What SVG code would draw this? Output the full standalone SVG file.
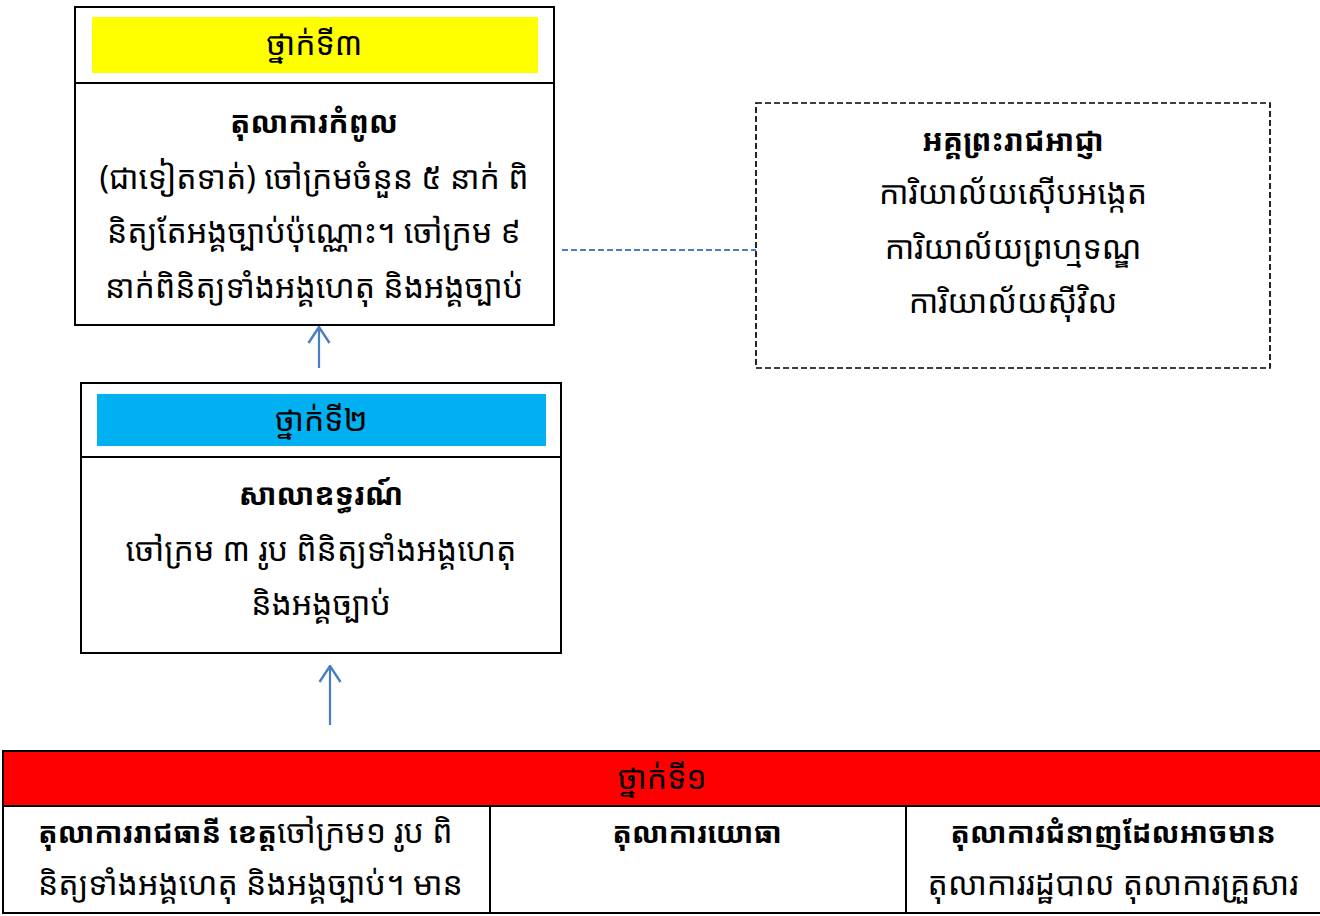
<svg xmlns="http://www.w3.org/2000/svg" width="1320" height="916" viewBox="0 0 1320 916">
<style>
text{font-family:"Khmer OS Battambang","Khmer OS System","Noto Sans Khmer","Noto Serif Khmer","Khmer OS","DejaVu Sans",sans-serif;font-size:32px;fill:#000}
.c{text-anchor:middle}
.b{font-weight:bold;font-size:30px}
.b2{font-weight:bold;font-size:29px}
.box{fill:#fff;stroke:#000;stroke-width:2}
.ln{stroke:#000;stroke-width:2;fill:none}
.conn{stroke:#4A7EC2;stroke-width:2.2;fill:none}
</style>
<defs>
<marker id="ah" viewBox="0 0 18 24" refX="17" refY="12" markerWidth="18" markerHeight="24" markerUnits="userSpaceOnUse" orient="auto">
<path d="M1,1.5 L17,12 L1,22.5" fill="none" stroke="#4A7EC2" stroke-width="2.4"/>
</marker>
</defs>
<rect width="1320" height="916" fill="#fff"/>
<g id="connectors">
<line class="conn" x1="319" y1="368" x2="319" y2="327" marker-end="url(#ah)"/>
<line class="conn" x1="330" y1="725" x2="330" y2="666" marker-end="url(#ah)"/>
<line class="conn" x1="562" y1="250" x2="756" y2="250" stroke-dasharray="6,3" stroke-width="1.6"/>
</g>
<g id="tier3">
<rect class="box" x="75" y="7" width="479" height="318"/>
<line class="ln" x1="75" y1="83" x2="554" y2="83" stroke-width="3"/>
<rect x="92" y="17" width="446" height="56" fill="#FFFF00"/>
<text class="c" x="314" y="55">ថ្នាក់ទី៣</text>
<text class="c b" x="314" y="133">តុលាការកំពូល</text>
<text class="c" x="314" y="189">(ជាទៀតទាត់) ចៅក្រមចំនួន ៥ នាក់ ពិ</text>
<text class="c" x="314" y="243">និត្យតែអង្គច្បាប់ប៉ុណ្ណោះ។ ចៅក្រម ៩</text>
<text class="c" x="314" y="298">នាក់ពិនិត្យទាំងអង្គហេតុ និងអង្គច្បាប់</text>
</g>
<g id="prosecutor">
<rect x="756" y="103" width="514" height="265" fill="#fff" stroke="#000" stroke-width="1.7" stroke-dasharray="6,3"/>
<text class="c b" x="1013" y="151">អគ្គព្រះរាជអាជ្ញា</text>
<text class="c" x="1013" y="204">ការិយាល័យស៊ើបអង្កេត</text>
<text class="c" x="1013" y="259">ការិយាល័យព្រហ្មទណ្ឌ</text>
<text class="c" x="1013" y="313">ការិយាល័យស៊ីវិល</text>
</g>
<g id="tier2">
<rect class="box" x="81" y="383" width="480" height="270"/>
<line class="ln" x1="81" y1="457" x2="561" y2="457" stroke-width="3"/>
<rect x="97" y="394" width="449" height="52" fill="#00B0F0"/>
<text class="c" x="321" y="431">ថ្នាក់ទី២</text>
<text class="c b" x="321" y="505">សាលាឧទ្ធរណ៍</text>
<text class="c" x="321" y="561">ចៅក្រម ៣ រូប ពិនិត្យទាំងអង្គហេតុ</text>
<text class="c" x="321" y="615">និងអង្គច្បាប់</text>
</g>
<g id="tier1">
<rect x="3" y="751" width="1320" height="55" fill="#FF0000"/>
<rect x="3" y="751" width="1320" height="162" fill="none" stroke="#000" stroke-width="2"/>
<line class="ln" x1="3" y1="806" x2="1320" y2="806"/>
<line class="ln" x1="490" y1="806" x2="490" y2="913"/>
<line class="ln" x1="906" y1="806" x2="906" y2="913"/>
<text class="c" x="662" y="789">ថ្នាក់ទី១</text>
<text x="38" y="843"><tspan class="b2">តុលាការរាជធានី ខេត្ត</tspan>ចៅក្រម១ រូប ពិ</text>
<text x="38" y="895">និត្យទាំងអង្គហេតុ និងអង្គច្បាប់។ មាន</text>
<text class="c b2" x="697" y="843">តុលាការយោធា</text>
<text class="c b2" x="1113" y="843">តុលាការជំនាញដែលអាចមាន</text>
<text class="c" x="1113" y="895">តុលាការរដ្ឋបាល តុលាការគ្រួសារ</text>
</g>
</svg>
